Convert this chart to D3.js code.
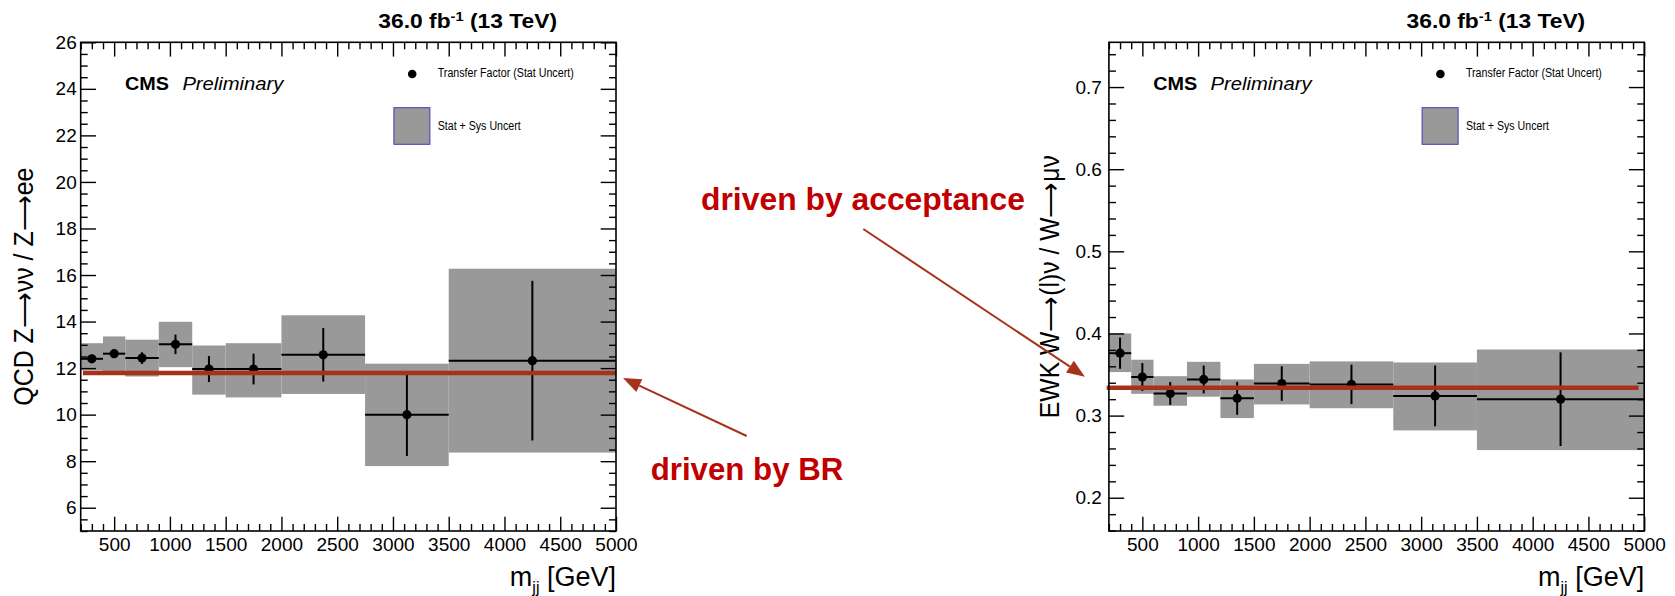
<!DOCTYPE html>
<html>
<head>
<meta charset="utf-8">
<script src="https://cdn.jsdelivr.net/npm/d3@7"></script>
<style>
  body { margin: 0; background: #fff; }
  text { font-family: "Liberation Sans", Arial, Helvetica, sans-serif; }
</style>
</head>
<body>
<svg id="chart" width="1675" height="596"></svg>
<script>
// mjj binning (GeV)
const binEdges = [200, 400, 600, 900, 1200, 1500, 2000, 2750, 3500, 5000];
const binCenters = [300, 500, 750, 1050, 1350, 1750, 2375, 3125, 4250];

// QCD Z->nunu / Z->ee
const qcdRatio   = [12.40, 12.62, 12.43, 13.02, 11.96, 11.96, 12.57, 10.00, 12.32];
const qcdStatErr = [0.12, 0.15, 0.25, 0.42, 0.56, 0.66, 1.15, 1.78, 3.43];
const qcdTotLow  = [11.90, 11.85, 11.64, 12.04, 10.86, 10.74, 10.89, 7.79, 8.37];
const qcdTotHigh = [13.07, 13.36, 13.22, 13.99, 12.97, 13.07, 14.27, 12.19, 16.27];
const qcdFit = 11.79;
const qcdYTicks = [6, 8, 10, 12, 14, 16, 18, 20, 22, 24, 26];

// EWK W->(l)nu / W->munu
const ewkRatio   = [0.376, 0.347, 0.327, 0.344, 0.321, 0.339, 0.338, 0.324, 0.320];
const ewkStatErr = [0.019, 0.017, 0.014, 0.017, 0.020, 0.021, 0.024, 0.037, 0.057];
const ewkTotLow  = [0.353, 0.3265, 0.312, 0.323, 0.297, 0.3136, 0.309, 0.282, 0.258];
const ewkTotHigh = [0.400, 0.368, 0.348, 0.3655, 0.344, 0.363, 0.366, 0.3647, 0.3805];
const ewkFit = 0.334;
const ewkYTicks = [0.2, 0.3, 0.4, 0.5, 0.6, 0.7];

const xTicks = [500, 1000, 1500, 2000, 2500, 3000, 3500, 4000, 4500, 5000];

const TOP = 42.3;
const PLOT_W = 535.3;
const PLOT_H = 488.7;
const X_DOMAIN = [200, 5000];
const FIT_COLOR = '#a7321a';
const NOTE_COLOR = '#c00000';

const svg = d3.select('#chart');

function drawPanel(cfg) {
  const g = svg.append('g').attr('transform', `translate(${cfg.left},${TOP})`);
  const x = d3.scaleLinear().domain(X_DOMAIN).range([0, PLOT_W]);
  const y = d3.scaleLinear().domain(cfg.yDomain).range([PLOT_H, 0]);
  const idx = d3.range(cfg.values.length);

  // stat + sys bands
  g.append('g').selectAll('rect')
    .data(idx).join('rect')
    .attr('x', i => x(binEdges[i]))
    .attr('width', i => x(binEdges[i + 1]) - x(binEdges[i]))
    .attr('y', i => y(cfg.high[i]))
    .attr('height', i => y(cfg.low[i]) - y(cfg.high[i]))
    .attr('fill', '#999999');

  // error bars
  const bars = g.append('g').attr('stroke', '#000').attr('stroke-width', 2);
  bars.selectAll('line.h').data(idx).join('line').attr('class', 'h')
    .attr('x1', i => x(binEdges[i])).attr('x2', i => x(binEdges[i + 1]))
    .attr('y1', i => y(cfg.values[i])).attr('y2', i => y(cfg.values[i]));
  bars.selectAll('line.v').data(idx).join('line').attr('class', 'v')
    .attr('x1', i => x(binCenters[i])).attr('x2', i => x(binCenters[i]))
    .attr('y1', i => y(cfg.values[i] - cfg.stat[i]))
    .attr('y2', i => y(cfg.values[i] + cfg.stat[i]));

  g.append('g').selectAll('circle')
    .data(idx).join('circle')
    .attr('cx', i => x(binCenters[i]))
    .attr('cy', i => y(cfg.values[i]))
    .attr('r', 4.6)
    .attr('fill', '#000');

  // fitted constant drawn on top
  g.append('line')
    .attr('x1', x(cfg.fitRange[0])).attr('x2', x(cfg.fitRange[1]))
    .attr('y1', y(cfg.fit)).attr('y2', y(cfg.fit))
    .attr('stroke', FIT_COLOR).attr('stroke-width', 4.4);

  // axes, ROOT style ticks inside the frame
  const xMinor = d3.range(200, 5001, 100).filter(v => v % 500 !== 0);
  const styleAxis = sel => {
    sel.select('.domain').remove();
    sel.attr('font-family', null).attr('font-size', 19)
      .selectAll('line').attr('stroke-width', 1.4);
  };

  g.append('g').attr('transform', `translate(0,${PLOT_H})`)
    .call(d3.axisBottom(x).tickValues(xTicks).tickSize(-14.3).tickSizeOuter(0)
      .tickPadding(6.5).tickFormat(d3.format('d')))
    .call(styleAxis);
  g.append('g').attr('transform', `translate(0,${PLOT_H})`)
    .call(d3.axisBottom(x).tickValues(xMinor).tickSize(-7).tickSizeOuter(0).tickFormat(''))
    .call(styleAxis);
  g.append('g')
    .call(d3.axisTop(x).tickValues(xTicks).tickSize(-14.3).tickSizeOuter(0).tickFormat(''))
    .call(styleAxis);
  g.append('g')
    .call(d3.axisTop(x).tickValues(xMinor).tickSize(-7).tickSizeOuter(0).tickFormat(''))
    .call(styleAxis);

  g.append('g')
    .call(d3.axisLeft(y).tickValues(cfg.yTicks).tickSize(-15.3).tickSizeOuter(0)
      .tickPadding(cfg.labelGap).tickFormat(cfg.fmt))
    .call(styleAxis);
  g.append('g')
    .call(d3.axisLeft(y).tickValues(cfg.yMinor).tickSize(-7).tickSizeOuter(0).tickFormat(''))
    .call(styleAxis);
  g.append('g').attr('transform', `translate(${PLOT_W},0)`)
    .call(d3.axisRight(y).tickValues(cfg.yTicks).tickSize(-15.3).tickSizeOuter(0).tickFormat(''))
    .call(styleAxis);
  g.append('g').attr('transform', `translate(${PLOT_W},0)`)
    .call(d3.axisRight(y).tickValues(cfg.yMinor).tickSize(-7).tickSizeOuter(0).tickFormat(''))
    .call(styleAxis);

  g.append('rect')
    .attr('width', PLOT_W).attr('height', PLOT_H)
    .attr('fill', 'none').attr('stroke', '#000').attr('stroke-width', 1.6);

  // lumi label (the slide stretched it sideways a bit)
  const lumi = g.append('text')
    .attr('transform', `translate(476.3,-14) scale(1.17,1)`)
    .attr('text-anchor', 'end')
    .attr('font-weight', 'bold').attr('font-size', 19.5);
  lumi.append('tspan').text('36.0 fb');
  lumi.append('tspan').attr('dy', -7).attr('font-size', 12.5).text('-1');
  lumi.append('tspan').attr('dy', 7).text(' (13 TeV)');

  // CMS Preliminary
  g.append('text').attr('x', 44.3).attr('y', 47.7)
    .attr('font-weight', 'bold').attr('font-size', 17.5)
    .attr('textLength', 44).attr('lengthAdjust', 'spacingAndGlyphs')
    .text('CMS');
  g.append('text').attr('x', 101.7).attr('y', 47.7)
    .attr('font-style', 'italic').attr('font-size', 17.5)
    .attr('textLength', 101).attr('lengthAdjust', 'spacingAndGlyphs')
    .text('Preliminary');

  // legend
  g.append('circle').attr('cx', 331.5).attr('cy', 31.7).attr('r', 4.3).attr('fill', '#000');
  g.append('text').attr('x', 357).attr('y', 35)
    .attr('font-size', 12.5)
    .attr('textLength', 136).attr('lengthAdjust', 'spacingAndGlyphs')
    .text('Transfer Factor (Stat Uncert)');
  g.append('rect').attr('x', 313.2).attr('y', 65.4).attr('width', 36).attr('height', 36.6)
    .attr('fill', '#999999').attr('stroke', '#3a3ab8').attr('stroke-width', 1);
  g.append('text').attr('x', 357).attr('y', 87.5)
    .attr('font-size', 12.5)
    .attr('textLength', 83).attr('lengthAdjust', 'spacingAndGlyphs')
    .text('Stat + Sys Uncert');

  // axis titles
  const xt = g.append('text')
    .attr('x', PLOT_W).attr('y', 543.4)
    .attr('text-anchor', 'end').attr('font-size', 27);
  xt.append('tspan').text('m');
  xt.append('tspan').attr('font-size', 16).attr('dy', 7).text('jj');
  xt.append('tspan').attr('dy', -7).text(' [GeV]');

  g.append('text')
    .attr('transform', `translate(${cfg.titleX},${PLOT_H / 2}) rotate(-90)`)
    .attr('text-anchor', 'middle').attr('font-size', 27)
    .attr('textLength', cfg.titleLen).attr('lengthAdjust', 'spacingAndGlyphs')
    .text(cfg.title);

  return {x, y, left: cfg.left};
}

const qcdPanel = drawPanel({
  left: 80.7,
  yDomain: [5, 26],
  yTicks: qcdYTicks,
  yMinor: d3.range(5, 26.01, 0.5).filter(v => v % 2 !== 0),
  fmt: d3.format('d'),
  labelGap: 4,
  values: qcdRatio, stat: qcdStatErr, low: qcdTotLow, high: qcdTotHigh,
  fit: qcdFit, fitRange: [220, 5000],
  title: 'QCD Z\u27f6\u03bd\u03bd / Z\u27f6ee',
  titleX: 33.5 - 80.7, titleLen: 238
});

const ewkPanel = drawPanel({
  left: 1108.9,
  yDomain: [0.1595, 0.7545],
  yTicks: ewkYTicks,
  yMinor: d3.range(16, 76).filter(k => k % 2 === 0 && k % 10 !== 0).map(k => k / 100),
  fmt: d3.format('.1f'),
  labelGap: 7,
  values: ewkRatio, stat: ewkStatErr, low: ewkTotLow, high: ewkTotHigh,
  fit: ewkFit, fitRange: [180, 4950],
  title: 'EWK W\u27f6(l)\u03bd / W\u27f6\u03bc\u03bd',
  titleX: 1058.5 - 1108.9, titleLen: 263
});

// slide annotations
function arrow(x1, y1, x2, y2) {
  const a = Math.atan2(y2 - y1, x2 - x1);
  const len = 18, half = 7;
  const bx = x2 - len * Math.cos(a), by = y2 - len * Math.sin(a);
  svg.append('line')
    .attr('x1', x1).attr('y1', y1).attr('x2', bx).attr('y2', by)
    .attr('stroke', FIT_COLOR).attr('stroke-width', 2);
  svg.append('path')
    .attr('d', `M${x2},${y2}L${bx + half * Math.sin(a)},${by - half * Math.cos(a)}` +
               `L${bx - half * Math.sin(a)},${by + half * Math.cos(a)}Z`)
    .attr('fill', FIT_COLOR);
}

// "driven by BR" points at the right end of the QCD fit line
arrow(746.7, 436, qcdPanel.left + qcdPanel.x(5000) + 7, TOP + qcdPanel.y(qcdFit) + 5);
// "driven by acceptance" points at the left end of the EWK fit line
arrow(863.3, 229, ewkPanel.left + ewkPanel.x(200) - 24, TOP + ewkPanel.y(ewkFit) - 11);

svg.append('text')
  .attr('x', 701).attr('y', 210)
  .attr('font-family', 'Lato, "Open Sans", sans-serif')
  .attr('font-weight', 'bold').attr('font-size', 31)
  .attr('fill', NOTE_COLOR)
  .attr('textLength', 324).attr('lengthAdjust', 'spacingAndGlyphs')
  .text('driven by acceptance');

svg.append('text')
  .attr('x', 650.7).attr('y', 480)
  .attr('font-family', 'Lato, "Open Sans", sans-serif')
  .attr('font-weight', 'bold').attr('font-size', 31)
  .attr('fill', NOTE_COLOR)
  .attr('textLength', 192.6).attr('lengthAdjust', 'spacingAndGlyphs')
  .text('driven by BR');
</script>
</body>
</html>
